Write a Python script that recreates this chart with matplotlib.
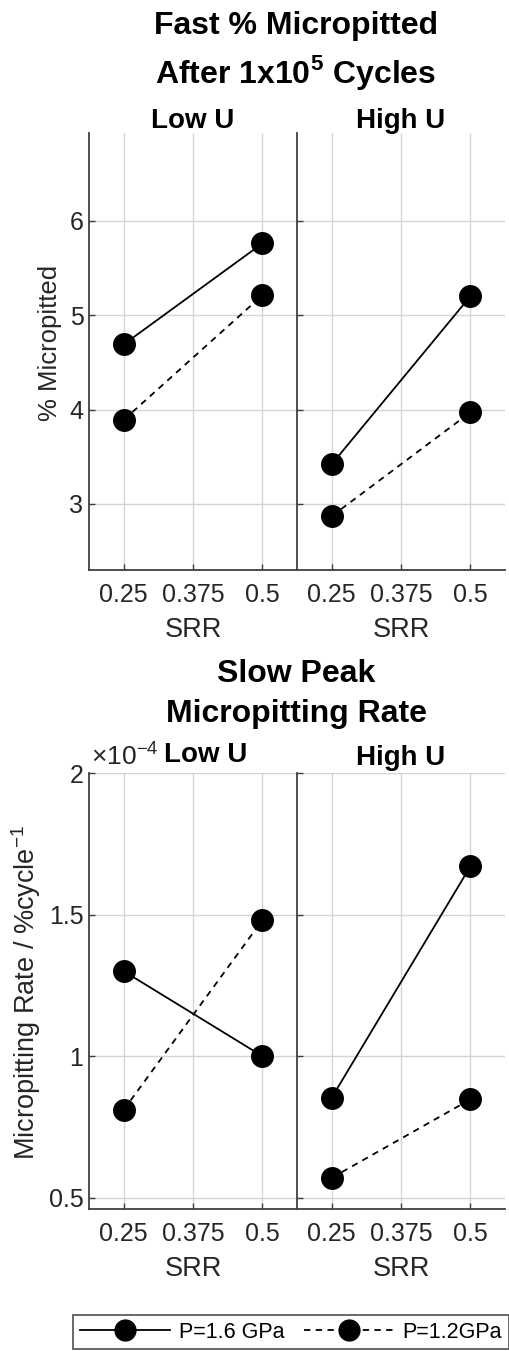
import matplotlib
matplotlib.use("Agg")
import matplotlib.pyplot as plt
from matplotlib.ticker import FuncFormatter
from matplotlib.lines import Line2D

plt.rcParams['font.family'] = ['Liberation Sans', 'DejaVu Sans']
plt.rcParams['mathtext.fontset'] = 'custom'
plt.rcParams['mathtext.rm'] = 'Liberation Sans'
plt.rcParams['mathtext.bf'] = 'Liberation Sans:bold'

# data
srr = [0.25, 0.5]
srr_ticks = [0.25, 0.375, 0.5]
srr_ticklabels = ["0.25", "0.375", "0.5"]

# fast % micropitted after 1e5 cycles
pct_low_16 = [4.69, 5.76]
pct_low_12 = [3.89, 5.21]
pct_high_16 = [3.42, 5.20]
pct_high_12 = [2.87, 3.97]

# slow peak micropitting rate (%/cycle)
rate_low_16 = [1.30e-4, 1.00e-4]
rate_low_12 = [0.81e-4, 1.48e-4]
rate_high_16 = [0.853e-4, 1.67e-4]
rate_high_12 = [0.570e-4, 0.847e-4]

W, H = 509, 1351
fig = plt.figure(figsize=(W / 100, H / 100), dpi=100)

def box(x0, y0, x1, y1):
    return [x0 / W, 1 - y1 / H, (x1 - x0) / W, (y1 - y0) / H]

ax_tl = fig.add_axes(box(89, 133, 297, 570))
ax_tr = fig.add_axes(box(297, 133, 505, 570))
ax_bl = fig.add_axes(box(89, 773, 297, 1209))
ax_br = fig.add_axes(box(297, 773, 505, 1209))

spine_col = "#404040"
txt_col = "#262626"

def style(ax, ylim, yticks, show_ylabels, fmt=None):
    ax.set_xlim(0.1875, 0.5625)
    ax.set_ylim(*ylim)
    ax.set_xticks(srr_ticks)
    ax.set_xticklabels(srr_ticklabels)
    ax.set_yticks(yticks)
    if fmt is not None:
        ax.yaxis.set_major_formatter(fmt)
    if not show_ylabels:
        ax.tick_params(axis='y', labelleft=False)
    ax.tick_params(direction='in', length=4, width=1, colors=spine_col,
                   labelsize=18, labelcolor=txt_col)
    ax.tick_params(axis='x', pad=9.5)
    ax.tick_params(axis='y', pad=4)
    for s in ['top', 'right']:
        ax.spines[s].set_visible(False)
    for s in ['left', 'bottom']:
        ax.spines[s].set_color(spine_col)
        ax.spines[s].set_linewidth(1.3)
    ax.grid(True, color='#d4d4d4', linewidth=1)
    ax.set_axisbelow(True)
    ax.set_xlabel("SRR", fontsize=19.5, color=txt_col, labelpad=7)

def draw(ax, y16, y12):
    ax.plot(srr, y16, '-', color='black', lw=1.3, marker='o', ms=15.5)
    ax.plot(srr, y12, '--', color='black', lw=1.3, marker='o', ms=15.5,
            dashes=(3.5, 3))

draw(ax_tl, pct_low_16, pct_low_12)
draw(ax_tr, pct_high_16, pct_high_12)
draw(ax_bl, rate_low_16, rate_low_12)
draw(ax_br, rate_high_16, rate_high_12)

style(ax_tl, (2.3, 6.93), [3, 4, 5, 6], True)
style(ax_tr, (2.3, 6.93), [3, 4, 5, 6], False)
rate_fmt = FuncFormatter(lambda v, p: "%g" % round(v / 1e-4, 3))
style(ax_bl, (0.46e-4, 2.0e-4), [0.5e-4, 1e-4, 1.5e-4, 2e-4], True, rate_fmt)
style(ax_br, (0.46e-4, 2.0e-4), [0.5e-4, 1e-4, 1.5e-4, 2e-4], False, rate_fmt)

def ftext(x, y, s, **kw):
    fig.text(x / W, 1 - y / H, s, ha='center', va='baseline', **kw)

ftext(296, 34, "Fast % Micropitted", fontsize=23, fontweight='bold')
ftext(296, 83, r"After 1x10$^{\mathbf{5}}$ Cycles", fontsize=23, fontweight='bold')
ftext(193, 128, "Low U", fontsize=20, fontweight='bold')
ftext(401, 128, "High U", fontsize=20, fontweight='bold')

ftext(296, 682, "Slow Peak", fontsize=23, fontweight='bold')
ftext(296, 722, "Micropitting Rate", fontsize=23, fontweight='bold')
ftext(206, 762, "Low U", fontsize=20, fontweight='bold')
ftext(401, 765, "High U", fontsize=20, fontweight='bold')
fig.text(91 / W, 1 - 765 / H, "×10$^{-4}$", ha='left', va='baseline',
         fontsize=19, color=txt_col)

fig.text(50 / W, 1 - 343 / H, "% Micropitted", fontsize=18.5, rotation=90,
         color=txt_col, ha='center', va='center')
fig.text(26 / W, 1 - 992 / H, "Micropitting Rate / %cycle$^{-1}$", fontsize=19.5,
         rotation=90, color=txt_col, ha='center', va='center')

handles = [
    Line2D([], [], color='black', ls='-', lw=1.3, marker='o', ms=15),
    Line2D([], [], color='black', ls='--', lw=1.3, marker='o', ms=15, dashes=(3.5, 3)),
]
leg = fig.legend(handles, ["P=1.6 GPa", "P=1.2GPa"], ncol=2,
                 loc='center', bbox_to_anchor=(291 / W, 1 - 1332 / H),
                 fontsize=15.5, frameon=True, fancybox=False, handlelength=4.2,
                 columnspacing=0.9, handletextpad=0.4, borderpad=0.3,
                 borderaxespad=0)
leg.get_frame().set_edgecolor('#333333')
leg.get_frame().set_linewidth(1.3)

fig.savefig("out.png", dpi=100, facecolor='white')
